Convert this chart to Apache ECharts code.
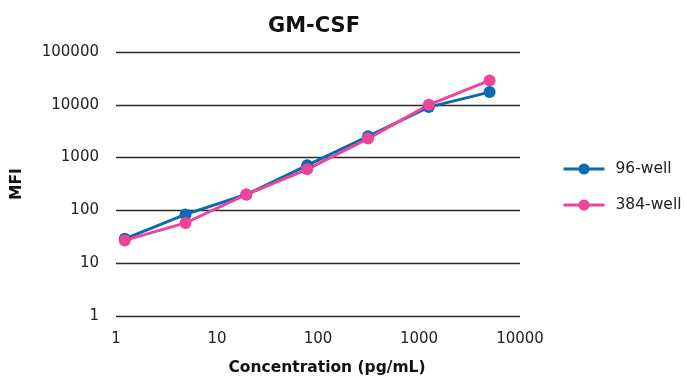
<!DOCTYPE html>
<html>
<head>
<meta charset="utf-8">
<script src="https://cdn.jsdelivr.net/npm/echarts@6/dist/echarts.min.js"></script>
<style>
  html, body { margin: 0; padding: 0; background: #fff; }
  #chart { width: 685px; height: 379px; }
</style>
</head>
<body>
<div id="chart"></div>
<script>
// GM-CSF standard curve: MFI vs. concentration, two plate formats
const concentrations = [1.22, 4.88, 19.5, 78.1, 312.5, 1250, 5000];
const mfi96 = [29, 84, 200, 715, 2530, 9050, 17400];
const mfi384 = [27, 58, 200, 600, 2290, 10000, 28900];
const seriesNames = ['96-well', '384-well'];

const pair = (xs, ys) => xs.map((x, i) => [x, ys[i]]);
const plain = v => String(Math.round(v));
const FONT = 'DejaVu Sans';

const chart = echarts.init(document.getElementById('chart'));
chart.setOption({
  animation: false,
  title: {
    text: 'GM-CSF',
    left: 309, top: 11,
    textAlign: 'center',
    textStyle: { fontFamily: FONT, fontSize: 21, fontWeight: 'bold', color: '#111' }
  },
  grid: { left: 116, right: 165, top: 52, bottom: 63, outerBoundsMode: 'none', containLabel: false },
  legend: {
    orient: 'vertical',
    left: 557, top: 156,
    itemWidth: 41, itemHeight: 14, itemGap: 20,
    lineStyle: { width: 3 },
    textStyle: { fontFamily: FONT, fontSize: 15.5, color: '#222', padding: [0, 0, 0, 6] },
    data: seriesNames
  },
  xAxis: {
    type: 'log', logBase: 10, min: 1, max: 10000,
    name: 'Concentration (pg/mL)',
    nameLocation: 'middle', nameGap: 44,
    nameTextStyle: { fontFamily: FONT, fontSize: 15.5, fontWeight: 'bold', color: '#111', padding: [0, 0, 0, 18] },
    axisLine: { show: false }, axisTick: { show: false },
    splitLine: { show: false },
    minorTick: { show: false },
    axisLabel: { fontFamily: FONT, fontSize: 15, color: '#222', margin: 16, formatter: plain }
  },
  yAxis: {
    type: 'log', logBase: 10, min: 1, max: 100000,
    name: 'MFI',
    nameLocation: 'middle', nameGap: 91, nameRotate: 90,
    nameTextStyle: { fontFamily: FONT, fontSize: 15.5, fontWeight: 'bold', color: '#111' },
    axisLine: { show: false }, axisTick: { show: false },
    splitLine: { show: true, lineStyle: { color: '#2a2a2a', width: 1.3 } },
    axisLabel: { fontFamily: FONT, fontSize: 15, color: '#222', margin: 17, formatter: plain }
  },
  series: [
    {
      name: seriesNames[0], type: 'line',
      data: pair(concentrations, mfi96),
      symbol: 'circle', symbolSize: 12,
      lineStyle: { width: 3, color: '#0b6ab3' },
      itemStyle: { color: '#0b6ab3' }
    },
    {
      name: seriesNames[1], type: 'line',
      data: pair(concentrations, mfi384),
      symbol: 'circle', symbolSize: 12,
      lineStyle: { width: 3, color: '#ec4599' },
      itemStyle: { color: '#ec4599' }
    }
  ]
});
</script>
</body>
</html>
